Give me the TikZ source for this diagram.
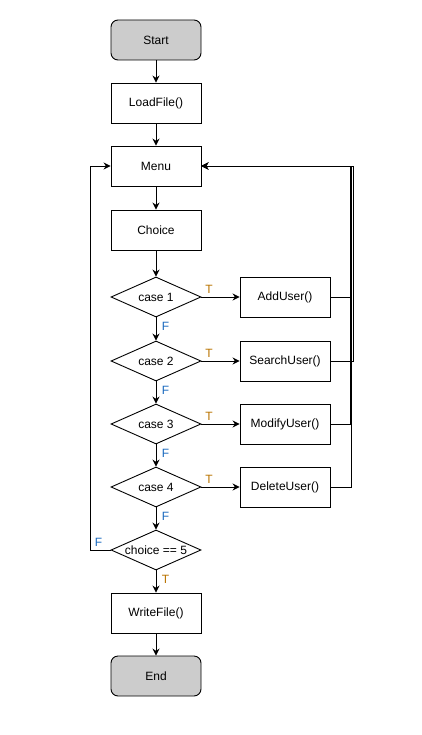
\documentclass[tikz,border=0pt]{standalone}
\usepackage{fontspec}
\setmainfont{Liberation Sans}
\usetikzlibrary{shapes.geometric,arrows.meta}
\definecolor{tcol}{RGB}{185,115,0}
\definecolor{fcol}{RGB}{25,105,190}
\begin{document}
\begin{tikzpicture}[x=1pt,y=-1pt,line width=0.9pt,
    >={Stealth[length=7pt,width=7pt]},
    every node/.style={font=\fontsize{12}{14}\selectfont},
    box/.style={draw,minimum width=90pt,minimum height=40pt,inner sep=0pt},
    term/.style={box,rounded corners=7pt,fill=black!20},
    cond/.style={draw,diamond,aspect=2.25,minimum width=90pt,minimum height=40pt,inner sep=0pt},
    tlab/.style={text=tcol},
    flab/.style={text=fcol}]
        \useasboundingbox (0,0) rectangle (422,735);
        % main column
        \node[term] (start) at (156,40) {Start};
        \node[box] (load) at (156,103) {LoadFile()};
        \node[box] (menu) at (156,166) {Menu};
        \node[box] (choice) at (156,230) {Choice};
        \node[cond] (case1) at (156,297) {case 1};
        \node[cond] (case2) at (156,361) {case 2};
        \node[cond] (case3) at (156,424) {case 3};
        \node[cond] (case4) at (156,487) {case 4};
        \node[cond] (case5) at (156,550) {choice == 5};
        \node[box] (write) at (156,613) {WriteFile()};
        \node[term] (end) at (156,676) {End};
        % actions
        \node[box] (add) at (285,297) {AddUser()};
        \node[box] (search) at (285,361) {SearchUser()};
        \node[box] (modify) at (285,424) {ModifyUser()};
        \node[box] (delete) at (285,487) {DeleteUser()};
        \draw[->] (start) -- (load);
        \draw[->] (load) -- (menu);
        \draw[->] (menu) -- (choice);
        \draw[->] (choice) -- (case1);
        \draw[->] (case1) -- node[flab,pos=.4,right,xshift=2pt]{F} (case2);
        \draw[->] (case2) -- node[flab,pos=.4,right,xshift=2pt]{F} (case3);
        \draw[->] (case3) -- node[flab,pos=.4,right,xshift=2pt]{F} (case4);
        \draw[->] (case4) -- node[flab,pos=.4,right,xshift=2pt]{F} (case5);
        \draw[->] (case5) -- node[tlab,pos=.4,right,xshift=2pt]{T} (write);
        \draw[->] (write) -- (end);
        \draw[->] (case1) -- node[tlab,pos=.2,above]{T} (add);
        \draw[->] (case2) -- node[tlab,pos=.2,above]{T} (search);
        \draw[->] (case3) -- node[tlab,pos=.2,above]{T} (modify);
        \draw[->] (case4) -- node[tlab,pos=.2,above]{T} (delete);
        % back to menu
        \draw[->] (add.east) -- ++(20,0) |- (menu.east);
        \draw[->] (search.east) -- ++(23,0) |- (menu.east);
        \draw[->] (modify.east) -- ++(20,0) |- (menu.east);
        \draw[->] (delete.east) -- ++(21,0) |- (menu.east);
        \draw[->] (case5.west) -- node[flab,pos=.6,above]{F} ++(-20,0) |- (menu.west);
\end{tikzpicture}
\end{document}
